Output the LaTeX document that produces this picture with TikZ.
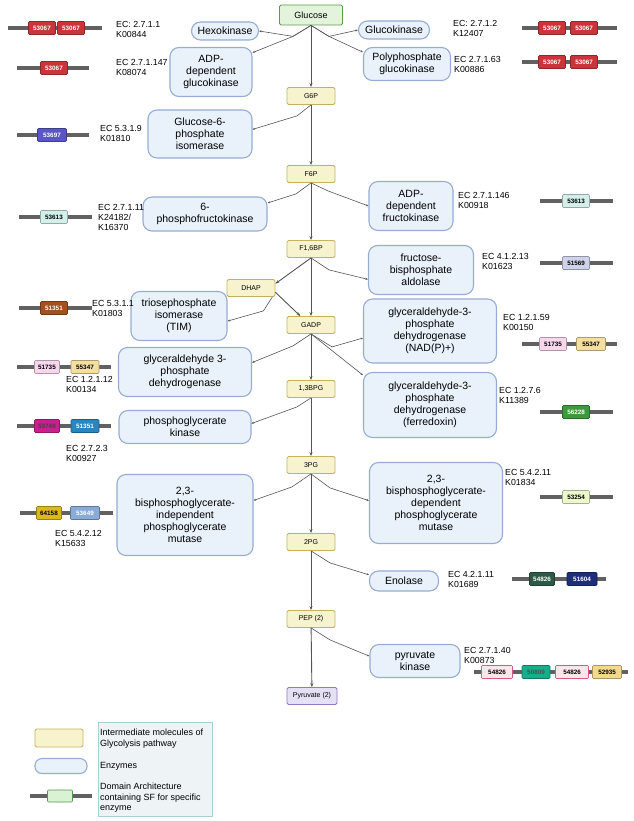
\documentclass[tikz,border=0pt]{standalone}
\usepackage{fontspec}
\setmainfont{Liberation Sans}
\usetikzlibrary{arrows.meta}

\definecolor{metabfill}{HTML}{F8F3CF}
\definecolor{metabline}{HTML}{C4B25F}
\definecolor{glcfill}{HTML}{E3F3DC}
\definecolor{glcline}{HTML}{5C9B4A}
\definecolor{pyrfill}{HTML}{E6E0F5}
\definecolor{pyrline}{HTML}{8E7CC3}
\definecolor{enzfill}{HTML}{E9F1FB}
\definecolor{enzline}{HTML}{97ACD4}
\definecolor{linegray}{HTML}{555555}
\definecolor{bargray}{HTML}{616161}
\definecolor{legbg}{HTML}{EEF4F6}
\definecolor{legline}{HTML}{A8CFD8}
% domain colours
\definecolor{red53}{HTML}{C9353B}
\definecolor{violet53}{HTML}{5A55C8}
\definecolor{cyan53}{HTML}{D3EFEA}
\definecolor{lav51}{HTML}{CFD3EA}
\definecolor{brown51}{HTML}{A3501F}
\definecolor{pink51}{HTML}{F8D6EE}
\definecolor{tan55}{HTML}{F5DFA0}
\definecolor{green56}{HTML}{3C9A3C}
\definecolor{mag53}{HTML}{CC1F8F}
\definecolor{blue51}{HTML}{2D85BD}
\definecolor{lime53}{HTML}{EEF6CC}
\definecolor{gold64}{HTML}{DCB820}
\definecolor{sky53}{HTML}{88ABD9}
\definecolor{dkgreen54}{HTML}{2D5A48}
\definecolor{navy51}{HTML}{1E2E78}
\definecolor{rose54}{HTML}{FBE6EC}
\definecolor{teal50}{HTML}{17AE8C}
\definecolor{tan52}{HTML}{F2D98C}
\definecolor{legfill}{HTML}{D9F2D3}

\begin{document}
\begin{tikzpicture}[x=1pt,y=-1pt,
    metab/.style={draw=metabline,fill=metabfill,line width=0.8pt,rounded corners=1.5pt,
        minimum width=48pt,minimum height=17pt,inner sep=1pt,font=\fontsize{7}{8}\selectfont},
    enz/.style={draw=enzline,fill=enzfill,line width=1.1pt,rounded corners=9pt,align=center,
        inner sep=1pt,font=\fontsize{10.5}{12}\selectfont},
    ec/.style={anchor=north west,align=left,inner sep=0pt,font=\fontsize{8.8}{10}\selectfont},
    dom/.style={draw=#1!70!black,fill=#1,line width=0.6pt,rounded corners=1pt,minimum width=27pt,
        minimum height=13pt,inner sep=0pt,font=\fontsize{6.3}{6.3}\selectfont\bfseries},
    bar/.style={line width=3.4pt,draw=bargray},
    flow/.style={draw=linegray,line width=0.9pt,-{Stealth[length=4pt,width=3pt]}},
    branch/.style={draw=linegray,line width=0.6pt,-{Stealth[length=2.5pt,width=2pt]}}]

\useasboundingbox (0,0) rectangle (633,821);

% intermediates
\node[metab,draw=glcline,fill=glcfill,minimum width=63pt,minimum height=20pt,
    font=\fontsize{9}{10}\selectfont] (glc) at (311,15) {Glucose};
\node[metab] (g6p) at (311,96) {G6P};
\node[metab] (f6p) at (311,174) {F6P};
\node[metab] (fbp) at (311,249) {F1,6BP};
\node[metab] (dhap) at (251,288) {DHAP};
\node[metab] (gadp) at (311,325) {GADP};
\node[metab] (bpg) at (311,389) {1,3BPG};
\node[metab] (pga3) at (311,465) {3PG};
\node[metab] (pga2) at (311,542) {2PG};
\node[metab] (pep) at (311,619) {PEP (2)};
\node[metab,draw=pyrline,fill=pyrfill,minimum width=50pt] (pyr) at (312,696) {Pyruvate (2)};

\foreach \a/\b in {glc/g6p,g6p/f6p,f6p/fbp,fbp/gadp,gadp/bpg,bpg/pga3,pga3/pga2,pga2/pep,pep/pyr}
    \draw[flow] (\a) -- (\b);
\draw[flow] (fbp.south) -- (dhap.10);
\draw[flow] (dhap.-10) -- (gadp.140);

% enzymes
\node[enz,minimum width=67pt,minimum height=18pt] (hk) at (225,31) {Hexokinase};
\node[enz,minimum width=71pt,minimum height=18pt] (gck) at (394,30) {Glucokinase};
\node[enz,minimum width=82pt,minimum height=49pt] (adpgk) at (211,72) {ADP-\\dependent\\glucokinase};
\node[enz,minimum width=87pt,minimum height=33pt] (ppgk) at (407,64) {Polyphosphate\\glucokinase};
\node[enz,minimum width=104pt,minimum height=48pt] (gpi) at (200,134) {Glucose-6-\\phosphate\\isomerase};
\node[enz,minimum width=124pt,minimum height=34pt] (pfk) at (205,214) {6-\\phosphofructokinase};
\node[enz,minimum width=84pt,minimum height=49pt] (adpfk) at (411,206) {ADP-\\dependent\\fructokinase};
\node[enz,minimum width=105pt,minimum height=49pt] (fba) at (421,270) {fructose-\\bisphosphate\\aldolase};
\node[enz,minimum width=96pt,minimum height=49pt] (tim) at (179,316) {triosephosphate\\isomerase\\(TIM)};
\node[enz,minimum width=133pt,minimum height=64pt] (gapn) at (430,331) {glyceraldehyde-3-\\phosphate\\dehydrogenase\\(NAD(P)+)};
\node[enz,minimum width=133pt,minimum height=49pt] (gapdh) at (185,372) {glyceraldehyde 3-\\phosphate\\dehydrogenase};
\node[enz,minimum width=133pt,minimum height=65pt] (gapor) at (430,405) {glyceraldehyde-3-\\phosphate\\dehydrogenase\\(ferredoxin)};
\node[enz,minimum width=132pt,minimum height=33pt] (pgk) at (185,427) {phosphoglycerate\\kinase};
\node[enz,minimum width=136pt,minimum height=81pt] (ipgam) at (185,515) {2,3-\\bisphosphoglycerate-\\independent\\phosphoglycerate\\mutase};
\node[enz,minimum width=133pt,minimum height=81pt] (dpgam) at (436,503) {2,3-\\bisphosphoglycerate-\\dependent\\phosphoglycerate\\mutase};
\node[enz,minimum width=69pt,minimum height=20pt] (eno) at (404,581) {Enolase};
\node[enz,minimum width=90pt,minimum height=33pt] (pk) at (415,661) {pyruvate\\kinase};

% intermediate -> enzyme
\draw[branch] (glc.south) -- +(-18,11) -- (hk.east);
\draw[branch] (glc.south) -- +(-18,11) -- (adpgk.25);
\draw[branch] (glc.south) -- +(18,11) -- (gck.west);
\draw[branch] (glc.south) -- +(18,11) -- (ppgk.165);
\draw[branch] (g6p.south) -- +(-14,11) -- (gpi.5);
\draw[branch] (f6p.south) -- +(-15,11) -- (pfk.10);
\draw[branch] (f6p.south) -- +(17,8) -- (adpfk.west);
\draw[branch] (fbp.south) -- +(18,12) -- (fba.190);
\draw[branch] ([xshift=-3pt]dhap.south east) -- +(-9,14) -- (tim.-6);
\draw[branch] (gadp.south) -- +(-18,12) -- (gapdh.8);
\draw[branch] (gadp.south) -- +(21,13) -- (gapn.186);
\draw[branch] (gadp.south) -- (gapor.156);
\draw[branch] (bpg.south) -- +(-14,9) -- (pgk.3);
\draw[branch] (pga3.south) -- +(-19,13) -- (ipgam.12);
\draw[branch] (pga3.south) -- +(19,14) -- (dpgam.178);
\draw[branch] (pga2.south) -- +(19,12) -- (eno.170);
\draw[branch] (pep.south) -- +(19,12) -- (pk.174);

% EC numbers
\node[ec] (ec1) at (116,21) {EC: 2.7.1.1\\K00844};
\node[ec] (ec2) at (116,59) {EC 2.7.1.147\\K08074};
\node[ec] (ec3) at (100,125) {EC 5.3.1.9\\K01810};
\node[ec] (ec4) at (453,20) {EC: 2.7.1.2\\K12407};
\node[ec] (ec5) at (454,56) {EC 2.7.1.63\\K00886};
\node[ec] (ec6) at (98,204) {EC 2.7.1.11\\K24182/\\K16370};
\node[ec] (ec7) at (458,192) {EC 2.7.1.146\\K00918};
\node[ec] (ec8) at (482,253) {EC 4.1.2.13\\K01623};
\node[ec] (ec9) at (92,300) {EC 5.3.1.1\\K01803};
\node[ec] (ec10) at (503,314) {EC 1.2.1.59\\K00150};
\node[ec] (ec11) at (66,376) {EC 1.2.1.12\\K00134};
\node[ec] (ec12) at (499,387) {EC 1.2.7.6\\K11389};
\node[ec] (ec13) at (66,445) {EC 2.7.2.3\\K00927};
\node[ec] (ec14) at (505,469) {EC 5.4.2.11\\K01834};
\node[ec] (ec15) at (55,530) {EC 5.4.2.12\\K15633};
\node[ec] (ec16) at (448,571) {EC 4.2.1.11\\K01689};
\node[ec] (ec17) at (464,647) {EC 2.7.1.40\\K00873};

% domain architectures
\draw[bar] (8,28) -- (102,28);
\node[dom=red53,text=white] (hka) at (42,28) {53067};
\node[dom=red53,text=white] (hkb) at (71,28) {53067};
\draw[bar] (17,68) -- (89,68);
\node[dom=red53,text=white] (adpgka) at (54,68) {53067};
\draw[bar] (17,135) -- (89,135);
\node[dom=violet53,text=white,minimum width=29pt] (gpia) at (52,135) {53697};
\draw[bar] (522,28) -- (617,28);
\node[dom=red53,text=white] (gcka) at (552,28) {53067};
\node[dom=red53,text=white] (gckb) at (584,28) {53067};
\draw[bar] (522,62) -- (617,62);
\node[dom=red53,text=white] (ppgka) at (552,62) {53067};
\node[dom=red53,text=white] (ppgkb) at (584,62) {53067};
\draw[bar] (19,217) -- (92,217);
\node[dom=cyan53] (pfka) at (54,217) {53613};
\draw[bar] (540,201) -- (613,201);
\node[dom=cyan53] (adpfka) at (576,201) {53613};
\draw[bar] (540,263) -- (613,263);
\node[dom=lav51] (fbaa) at (576,263) {51569};
\draw[bar] (19,308) -- (92,308);
\node[dom=brown51,text=white] (tima) at (54,308) {51351};
\draw[bar] (522,344) -- (617,344);
\node[dom=pink51] (gapna) at (553,344) {51735};
\node[dom=tan55,minimum width=29pt] (gapnb) at (591,344) {55347};
\draw[bar] (17,367) -- (111,367);
\node[dom=pink51,minimum width=25pt] (gapdha) at (47,367) {51735};
\node[dom=tan55,minimum width=28pt] (gapdhb) at (85,367) {55347};
\draw[bar] (540,412) -- (613,412);
\node[dom=green56,text=white] (gapora) at (576,412) {56228};
\draw[bar] (17,426) -- (111,426);
\node[dom=mag53,text=black!75,minimum width=25pt] (pgka) at (47,426) {53748};
\node[dom=blue51,text=white,minimum width=28pt] (pgkb) at (85,426) {51351};
\draw[bar] (540,497) -- (613,497);
\node[dom=lime53] (dpgama) at (576,497) {53254};
\draw[bar] (20,513) -- (113,513);
\node[dom=gold64,minimum width=25pt] (ipgama) at (49,513) {64158};
\node[dom=sky53,text=white,minimum width=29pt] (ipgamb) at (85,513) {53649};
\draw[bar] (512,579) -- (606,579);
\node[dom=dkgreen54,text=white,minimum width=25pt] (enoa) at (542,579) {54826};
\node[dom=navy51,text=white,minimum width=30pt] (enob) at (582,579) {51604};
\draw[bar] (474,672) -- (628,672);
\node[dom=rose54,draw=rose54!40!purple,minimum width=31pt] (pka) at (497,672) {54826};
\node[dom=teal50,text=black!70,minimum width=28pt] (pkb) at (536,672) {50800};
\node[dom=rose54,draw=rose54!40!purple,minimum width=33pt] (pkc) at (572,672) {54826};
\node[dom=tan52,minimum width=29pt] (pkd) at (607,672) {52935};

% legend
\node[metab,minimum width=48pt,minimum height=18pt] (legmetab) at (59,738) {};
\node[enz,minimum width=52pt,minimum height=15pt,rounded corners=7pt] (legenz) at (61,766) {};
\draw[bar] (30,796) -- (92,796);
\node[dom=legfill,draw=legfill!50!black!80!green,minimum width=25pt,minimum height=12pt] (legdom) at (60,796) {};
\node[draw=legline,fill=legbg,line width=0.8pt,minimum width=114pt,minimum height=94pt] (legbox) at (155,769) {};
\node[ec,font=\fontsize{9}{10.5}\selectfont] (legt1) at (100,729) {Intermediate molecules of\\Glycolysis pathway};
\node[ec,font=\fontsize{9}{10.5}\selectfont] (legt2) at (100,762) {Enzymes};
\node[ec,font=\fontsize{9}{10.5}\selectfont] (legt3) at (100,783) {Domain Architecture\\containing SF for specific\\enzyme};
\end{tikzpicture}
\end{document}
